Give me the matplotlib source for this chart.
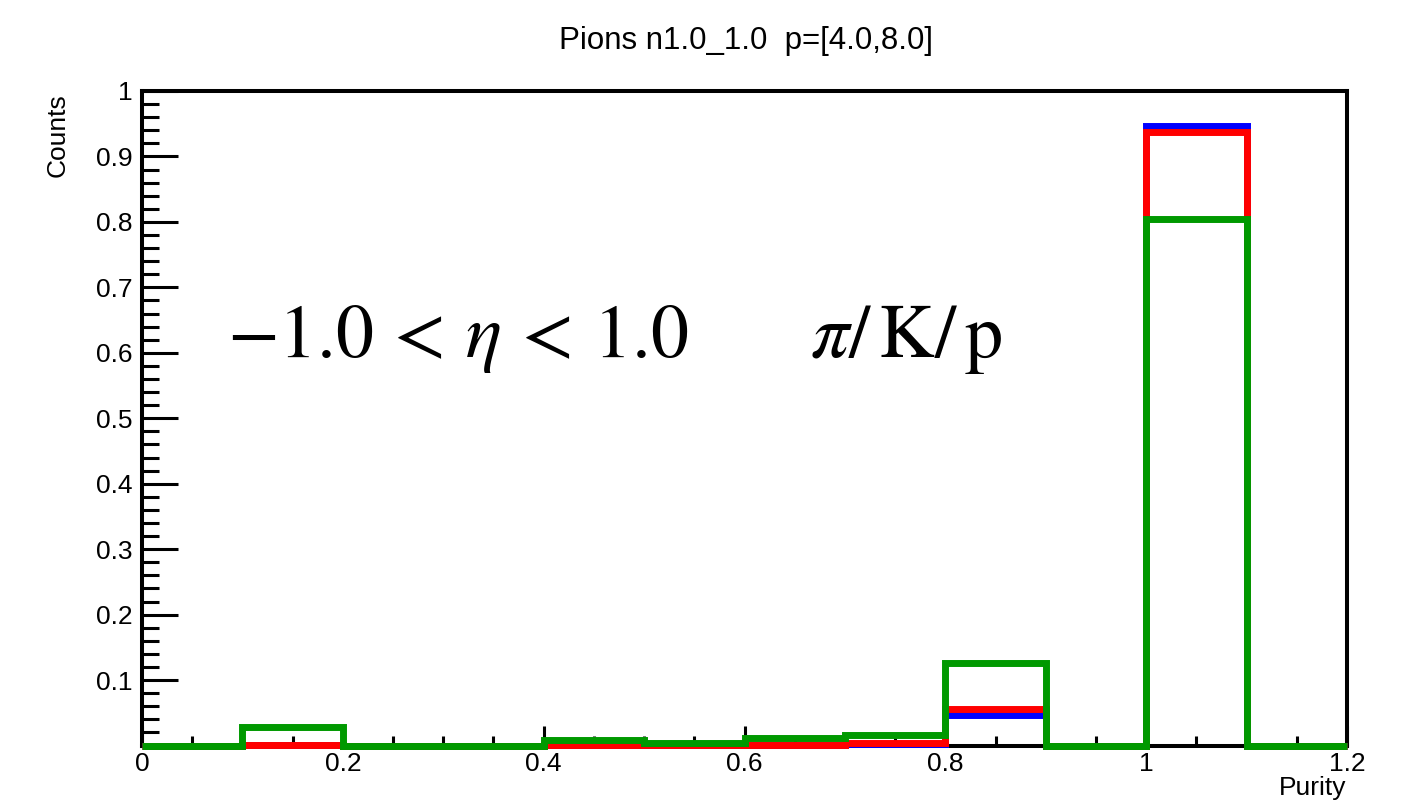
import matplotlib
matplotlib.use("Agg")
import matplotlib.pyplot as plt
import numpy as np
from matplotlib.ticker import FixedLocator, FixedFormatter, MultipleLocator

# ---- data ----
bin_edges = [0.0, 0.1, 0.2, 0.3, 0.4, 0.5, 0.6, 0.7, 0.8, 0.9, 1.0, 1.1, 1.2]
blue_vals = [0.0, 0.001, 0.0, 0.0, 0.001, 0.0005, 0.001, 0.003, 0.047, 0.0, 0.946, 0.0]
red_vals = [0.0, 0.001, 0.0, 0.0, 0.001, 0.0005, 0.001, 0.004, 0.056, 0.0, 0.937, 0.0]
green_vals = [0.0, 0.028, 0.0, 0.0, 0.009, 0.004, 0.011, 0.016, 0.126, 0.0, 0.804, 0.0]

x_ticks = [0.0, 0.2, 0.4, 0.6, 0.8, 1.0, 1.2]
x_labels = ["0", "0.2", "0.4", "0.6", "0.8", "1", "1.2"]
y_ticks = [0.1, 0.2, 0.3, 0.4, 0.5, 0.6, 0.7, 0.8, 0.9, 1.0]
y_labels = ["0.1", "0.2", "0.3", "0.4", "0.5", "0.6", "0.7", "0.8", "0.9", "1"]

title = "Pions n1.0_1.0  p=[4.0,8.0]"
xlabel = "Purity"
ylabel = "Counts"

plt.rcParams["font.family"] = ["Liberation Sans", "DejaVu Sans"]
plt.rcParams["mathtext.fontset"] = "stix"

W, H = 1419, 806
fig = plt.figure(figsize=(W / 100, H / 100), dpi=100)
ax = fig.add_axes([142 / W, (H - 745.5) / H, (1347 - 142) / W, (745.5 - 91) / H])

lw_hist = 5.0
for vals, col in [(blue_vals, "#0000ff"), (red_vals, "#ff0000"), (green_vals, "#009900")]:
    ax.stairs(vals, bin_edges, baseline=None, color=col, linewidth=lw_hist,
              clip_on=False, zorder=3)

ax.set_xlim(0, 1.2)
ax.set_ylim(0, 1.0)

for s in ["left", "bottom", "top", "right"]:
    ax.spines[s].set_linewidth(2.9)
    ax.spines[s].set_zorder(2)

ax.xaxis.set_major_locator(FixedLocator(x_ticks))
ax.xaxis.set_major_formatter(FixedFormatter(x_labels))
ax.xaxis.set_minor_locator(MultipleLocator(0.05))
ax.yaxis.set_major_locator(FixedLocator(y_ticks))
ax.yaxis.set_major_formatter(FixedFormatter(y_labels))
ax.yaxis.set_minor_locator(MultipleLocator(0.02))

ax.tick_params(axis="both", which="both", direction="in", top=False, right=False,
               width=2.2, labelsize=19)
ax.tick_params(axis="x", which="major", length=14.4, pad=5)
ax.tick_params(axis="x", which="minor", length=7.2)
ax.tick_params(axis="y", which="major", length=26, pad=6.5)
ax.tick_params(axis="y", which="minor", length=12.2)

fig.text(746 / W, (H - 49) / H, title, ha="center", va="baseline", fontsize=22.5)
fig.text(58 / W, (H - 93) / H, ylabel, rotation=90, ha="center", va="top", fontsize=19)
fig.text(1346 / W, (H - 795) / H, xlabel, ha="right", va="baseline", fontsize=19)

fig.text(227 / W, (H - 357) / H, r"$-1.0\,<\,\eta\,<\,1.0$", ha="left", va="baseline",
         fontsize=54.5)
fig.text(810 / W, (H - 357) / H, r"$\pi/\,\mathrm{K}/\,\mathrm{p}$", ha="left", va="baseline",
         fontsize=55)

fig.savefig("out.png", dpi=100)
